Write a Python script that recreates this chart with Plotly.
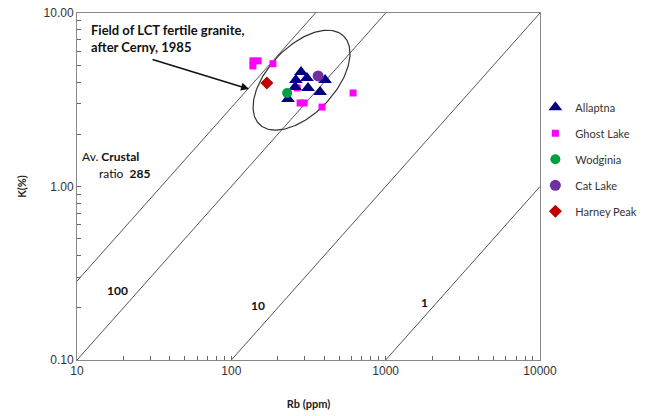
import numpy as np
import plotly.graph_objects as go

# ---- data ----
allaptna_rb = [283, 309, 259, 314, 376, 405, 233, 262]
allaptna_k = [4.57, 4.22, 3.75, 3.70, 3.50, 4.11, 3.19, 4.11]

ghost_rb = [138, 149, 138, 186, 267, 279, 296, 387, 615]
ghost_k = [5.30, 5.30, 4.95, 5.10, 3.70, 3.03, 3.03, 2.87, 3.46]

wodginia_rb = [230]
wodginia_k = [3.46]

catlake_rb = [365]
catlake_k = [4.34]

harney_rb = [170]
harney_k = [3.95]

ratios = [285, 100, 10, 1]          # K/Rb ratio lines
rb_range = [10, 10000]

x_major = [10, 100, 1000, 10000]
x_major_text = ["10", "100", "1000", "10000"]
y_major = [0.1, 1, 10]
y_major_text = ["0.10", "1.00", "10.00"]

# LCT field ellipse
ell_center = (285, 4.1)
ell_a_px, ell_b_px, ell_angle_deg = 61, 33.5, 46.6
px_per_dec_x, px_per_dec_y = 154.3, 173.5


def with_minors(majors, texts):
    vals, txt = [], []
    for i, m in enumerate(majors):
        vals.append(m)
        txt.append(texts[i])
        if i < len(majors) - 1:
            for d in range(2, 10):
                vals.append(m * d)
                txt.append("")
    return vals, txt


xv, xt = with_minors(x_major, x_major_text)
yv, yt = with_minors(y_major, y_major_text)

fig = go.Figure()

line_col = "#555555"
for r in ratios:
    rb = np.logspace(np.log10(rb_range[0]), np.log10(rb_range[1]), 50)
    k = r * rb / 1e4
    fig.add_trace(go.Scatter(x=rb, y=k, mode="lines",
                             line=dict(color=line_col, width=1),
                             showlegend=False, hoverinfo="skip"))

# ellipse
t = np.linspace(0, 2 * np.pi, 200)
th = np.deg2rad(ell_angle_deg)
dx = ell_a_px * np.cos(th) * np.cos(t) - ell_b_px * np.sin(th) * np.sin(t)
dy = ell_a_px * np.sin(th) * np.cos(t) + ell_b_px * np.cos(th) * np.sin(t)
ex = 10 ** (np.log10(ell_center[0]) + dx / px_per_dec_x)
ey = 10 ** (np.log10(ell_center[1]) + dy / px_per_dec_y)
fig.add_trace(go.Scatter(x=ex, y=ey, mode="lines",
                         line=dict(color="#333333", width=1.2),
                         showlegend=False, hoverinfo="skip"))

fig.add_trace(go.Scatter(x=ghost_rb, y=ghost_k, mode="markers", name="Ghost Lake",
                         marker=dict(symbol="square", size=7, color="#FF00FF"),
                         legendrank=2, legendgroup="g2"))
fig.add_trace(go.Scatter(x=allaptna_rb, y=allaptna_k, mode="markers", name="Allaptna",
                         marker=dict(symbol="triangle-up", size=12, color="#000080"),
                         legendrank=1, legendgroup="g1"))
fig.add_trace(go.Scatter(x=wodginia_rb, y=wodginia_k, mode="markers", name="Wodginia",
                         marker=dict(symbol="circle", size=10, color="#00A040"),
                         legendrank=3, legendgroup="g3"))
fig.add_trace(go.Scatter(x=catlake_rb, y=catlake_k, mode="markers", name="Cat Lake",
                         marker=dict(symbol="circle", size=11, color="#7030A0"),
                         legendrank=4, legendgroup="g4"))
fig.add_trace(go.Scatter(x=harney_rb, y=harney_k, mode="markers", name="Harney Peak",
                         marker=dict(symbol="diamond", size=10, color="#C00000"),
                         legendrank=5, legendgroup="g5"))


def lx(px):
    return 1 + (px - 77) / px_per_dec_x


def ly(py):
    return 1 - (py - 13) / px_per_dec_y


lbl_font = dict(family="Lato, Open Sans, sans-serif", size=12, color="#111111")
for px, py, txt in [(117, 290, "<b>100</b>"), (258, 305, "<b>10</b>"), (424, 302, "<b>1</b>")]:
    fig.add_annotation(x=lx(px), y=ly(py), xref="x", yref="y", text=txt,
                       showarrow=False, font=lbl_font)

fig.add_annotation(x=lx(80), y=ly(156), xref="x", yref="y", xanchor="left", yanchor="middle",
                   text="Av. <b>Crustal</b>", showarrow=False, font=lbl_font)
fig.add_annotation(x=lx(97), y=ly(173), xref="x", yref="y", xanchor="left", yanchor="middle",
                   text="ratio  <b>285</b>", showarrow=False, font=lbl_font)

fig.add_annotation(x=lx(89), y=ly(20), xref="x", yref="y", xanchor="left", yanchor="top",
                   align="left",
                   text="<b>Field of LCT fertile granite,<br>after Cerny, 1985</b>",
                   showarrow=False,
                   font=dict(family="Lato, Open Sans, sans-serif", size=13, color="#111111"))
fig.add_annotation(x=lx(249), y=ly(89), xref="x", yref="y", ax=-98, ay=-30,
                   text="", showarrow=True, arrowhead=2, arrowsize=1, arrowwidth=1.6,
                   arrowcolor="#111111")

axis_common = dict(type="log", showgrid=False, zeroline=False, showline=True,
                   linecolor="#888888", linewidth=1, mirror=True,
                   ticks="inside", ticklen=4, tickcolor="#666666",
                   tickfont=dict(family="Liberation Sans, Arial", size=12, color="#333333"))

fig.update_layout(
    width=650, height=416,
    margin=dict(l=77, r=110, t=13, b=56, autoexpand=False),
    plot_bgcolor="white", paper_bgcolor="white",
    xaxis=dict(range=[1, 4], tickmode="array", tickvals=xv, ticktext=xt,
               title=dict(text="<b>Rb (ppm)</b>", standoff=22,
                          font=dict(family="Lato, Open Sans, sans-serif", size=11, color="#222222")),
               **axis_common),
    yaxis=dict(range=[-1, 1], tickmode="array", tickvals=yv, ticktext=yt,
               title=dict(text="<b>K(%)</b>", standoff=14,
                          font=dict(family="Lato, Open Sans, sans-serif", size=11, color="#222222")),
               **axis_common),
    legend=dict(x=0.99, y=0.77, xanchor="left", yanchor="top",
                font=dict(family="Lato, Open Sans, sans-serif", size=11, color="#333333"),
                tracegroupgap=7, itemwidth=30, bgcolor="rgba(0,0,0,0)"),
    showlegend=True,
)

fig.write_html("out.html")
